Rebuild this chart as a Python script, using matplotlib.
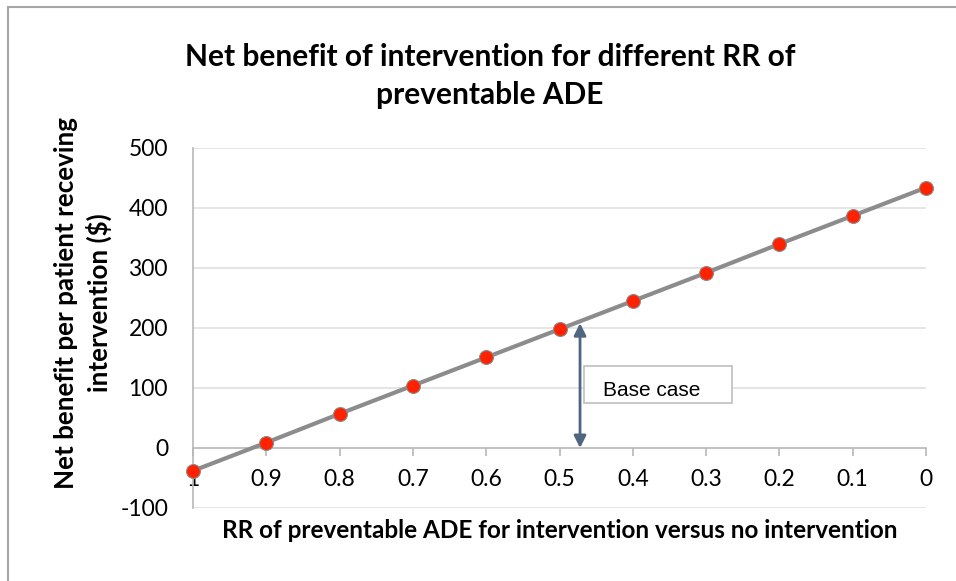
import matplotlib.pyplot as plt
from matplotlib.patches import Rectangle

plt.rcParams["axes.unicode_minus"] = False

# RR of preventable ADE and the net benefit per patient at each RR
rr = [1.0, 0.9, 0.8, 0.7, 0.6, 0.5, 0.4, 0.3, 0.2, 0.1, 0.0]
net_benefit = [-38, 9, 57, 104, 151, 198, 245, 292, 340, 387, 434]

x_ticks = [1, 0.9, 0.8, 0.7, 0.6, 0.5, 0.4, 0.3, 0.2, 0.1, 0]
x_tick_labels = ["1", "0.9", "0.8", "0.7", "0.6", "0.5", "0.4", "0.3", "0.2", "0.1", "0"]
y_ticks = [-100, 0, 100, 200, 300, 400, 500]

base_case_rr = 0.472
base_case_top = 208

W, H = 956, 581
fig = plt.figure(figsize=(W / 100, H / 100), dpi=100)
ax = fig.add_axes([193 / W, 1 - 508 / H, (926 - 193) / W, (508 - 148) / H])

# chart frame
fig.patches.append(Rectangle((8 / W, -0.1), 1.2, 1 - 7 / H + 0.1,
                             transform=fig.transFigure, fill=False,
                             edgecolor="#A6A6A6", linewidth=1.5))

ax.plot(rr, net_benefit, color="#8C8C8C", linewidth=3.0, zorder=3,
        marker="o", markersize=10, markerfacecolor="#FF2200",
        markeredgecolor="#8C8C8C", markeredgewidth=0.8, clip_on=False)

ax.set_xlim(1, 0)
ax.set_ylim(-100, 500)
ax.set_xticks(x_ticks)
ax.set_xticklabels(x_tick_labels)
ax.set_yticks(y_ticks)

for v in y_ticks:
    if v != 0:
        ax.axhline(v, color="#E0E0E0", linewidth=1.2, zorder=0)

for s in ["top", "right"]:
    ax.spines[s].set_visible(False)
ax.spines["bottom"].set_position(("data", 0))
ax.spines["bottom"].set_color("#B8B8B8")
ax.spines["bottom"].set_linewidth(1.2)
ax.spines["left"].set_color("#B8B8B8")
ax.spines["left"].set_linewidth(1.2)

ax.tick_params(axis="x", direction="out", length=6, width=1.2, color="#B8B8B8",
               pad=9, labelsize=16.5)
ax.tick_params(axis="y", length=0, pad=18, labelsize=16.5)
for lab in ax.get_xticklabels() + ax.get_yticklabels():
    lab.set_fontfamily("Lato")

# base case marker
ax.annotate("", xy=(base_case_rr, base_case_top), xytext=(base_case_rr, 0),
            arrowprops=dict(arrowstyle="<|-|>", color="#4F6580", linewidth=2,
                            mutation_scale=18, shrinkA=0, shrinkB=0), zorder=4)
ax.add_patch(Rectangle((0.265, 75), 0.467 - 0.265, 62, fill=True,
                       facecolor="white", edgecolor="#BFBFBF", linewidth=1.2,
                       zorder=5))
ax.text(0.441, 96, "Base case", fontsize=15, family="Liberation Sans",
        ha="left", va="center", zorder=6)

fig.text(490 / W, 1 - 76 / H, "Net benefit of intervention for different RR of\npreventable ADE",
         ha="center", va="center", fontsize=21.5, fontweight="bold",
         family="Lato", linespacing=1.4)
fig.text(560 / W, 1 - 530 / H, "RR of preventable ADE for intervention versus no intervention",
         ha="center", va="center", fontsize=17.5, fontweight="bold", family="Lato")
fig.text(83 / W, 1 - 303 / H, "Net benefit per patient receving\nintervention ($)",
         ha="center", va="center", rotation=90, fontsize=18.7,
         fontweight="bold", family="Lato", linespacing=1.35)

fig.savefig("out.png", dpi=100)
